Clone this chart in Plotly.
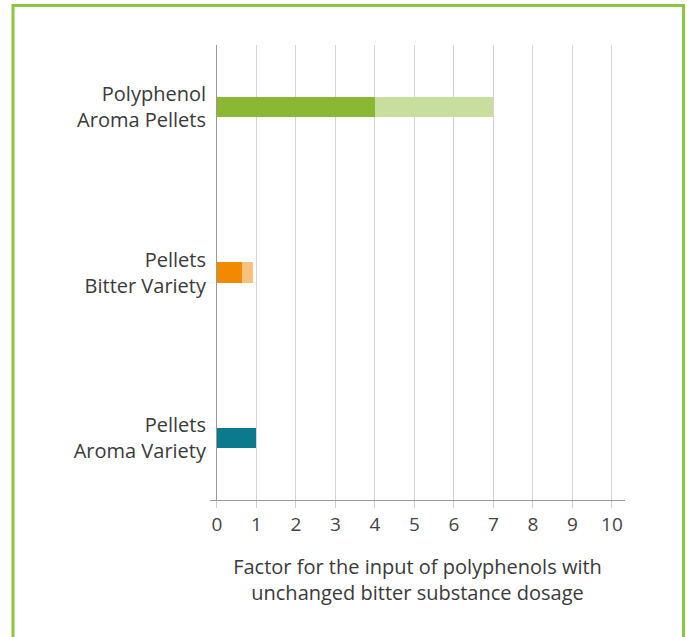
import plotly.graph_objects as go

categories = ["Pellets<br>Aroma Variety", "Pellets<br>Bitter Variety", "Polyphenol<br>Aroma Pellets"]
lower_values = [1.0, 0.63, 4.0]
upper_values = [1.0, 0.9, 7.0]
dark_colors = ["#0B7A8C", "#F28A00", "#8BB832"]
light_colors = ["#6FB3BE", "#F9C17E", "#C7DE9C"]
x_ticks = list(range(0, 11))
x_title = "Factor for the input of polyphenols with<br>unchanged bitter substance dosage"

ypos = list(range(len(categories)))
extra = [u - l for u, l in zip(upper_values, lower_values)]

fig = go.Figure()
fig.add_trace(go.Bar(y=ypos, x=lower_values, orientation="h", width=0.125,
                     marker=dict(color=dark_colors, line=dict(width=0)), showlegend=False))
fig.add_trace(go.Bar(y=ypos, x=extra, orientation="h", width=0.125,
                     marker=dict(color=light_colors, line=dict(width=0)), showlegend=False))

W, H = 687, 637
L, T = 210, 45
R = W - 625
B = H - 500
pw, ph = W - L - R, H - T - B

def px_x(p):
    return (p - L) / pw

def px_y(p):
    return (H - B - p) / ph

FONT = "'Open Sans', sans-serif"

fig.update_layout(
    width=W, height=H, barmode="stack",
    margin=dict(l=L, r=R, t=T, b=B),
    paper_bgcolor="white", plot_bgcolor="white",
    font=dict(family=FONT, size=20, color="#3a3a3a"),
    xaxis=dict(range=[-0.177, 10.33], tickvals=x_ticks, showgrid=True, gridcolor="#d4d4d4",
               gridwidth=1, zeroline=True, zerolinecolor="#999999", zerolinewidth=1,
               showline=True, linecolor="#999999", linewidth=1,
               ticks="outside", ticklen=7, tickcolor="#cccccc",
               tickfont=dict(family=FONT, size=19, color="#444444"),
               title=dict(text=x_title, font=dict(family=FONT, size=20, color="#3a3a3a"), standoff=24)),
    yaxis=dict(range=[-0.375, 2.375], tickvals=ypos, ticktext=categories,
               showgrid=False, zeroline=False, showline=False, ticks="",
               ticklabelstandoff=3,
               tickfont=dict(family=FONT, size=20, color="#3a3a3a")),
    shapes=[dict(type="rect", xref="paper", yref="paper",
                 x0=px_x(13), x1=px_x(683.5), y0=px_y(660), y1=px_y(5.5),
                 line=dict(color="#8CC63E", width=3), fillcolor="rgba(0,0,0,0)", layer="below")],
)

fig.write_html("out.html", config={"displayModeBar": False},
               post_script="document.body.style.margin='0';document.body.style.overflow='hidden';")
